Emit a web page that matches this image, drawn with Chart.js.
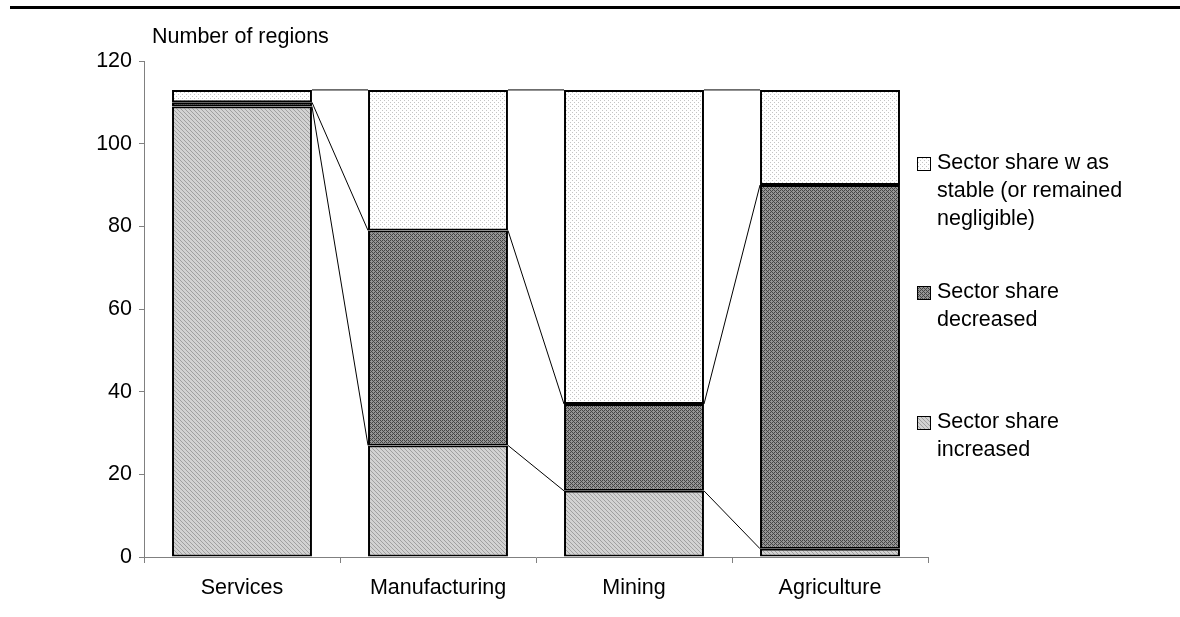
<!DOCTYPE html>
<html>
<head>
<meta charset="utf-8">
<script src="https://cdn.jsdelivr.net/npm/chart.js@4.4.1/dist/chart.umd.min.js"></script>
<style>
  html, body { margin: 0; padding: 0; background: #fff; }
  #wrap { width: 1180px; height: 617px; position: relative; }
</style>
</head>
<body>
<div id="wrap"><canvas id="myChart" width="1180" height="617"></canvas></div>
<script>
// -----------------------------------------------------------------
// data
const categories = ['Services', 'Manufacturing', 'Mining', 'Agriculture'];
const shareIncreased = [109, 27, 16, 2];
const shareDecreased = [1, 52, 21, 88];
const shareStable = [3, 34, 76, 23];
const yTicks = [0, 20, 40, 60, 80, 100, 120];

const legendLines = {
  stable: ['Sector share w as', 'stable (or remained', 'negligible)'],
  decreased: ['Sector share', 'decreased'],
  increased: ['Sector share', 'increased'],
};

const FONT = '"Liberation Sans", Arial, sans-serif';
const FSIZE = 21.5;

// -----------------------------------------------------------------
// fill patterns (excel-like)
function makePattern(bg, fg, dots) {
  const c = document.createElement('canvas');
  c.width = 4; c.height = 4;
  const g = c.getContext('2d');
  g.fillStyle = bg;
  g.fillRect(0, 0, 4, 4);
  g.fillStyle = fg;
  dots.forEach(([x, y]) => g.fillRect(x, y, 1, 1));
  return g.createPattern(c, 'repeat');
}

const patIncreased = makePattern('#d2d2d2', '#a0a0a0', [[0, 0], [1, 1], [2, 2], [3, 3]]);
const patDecreased = makePattern('#959595', '#454545', [[0, 0], [2, 0], [1, 1], [3, 3], [0, 2], [2, 2]]);
const patStable = makePattern('#ffffff', '#c4c4c4', [[0, 0], [2, 2]]);

// -----------------------------------------------------------------
// plugin: series lines, title, legend, top rule
const extras = {
  id: 'extras',
  afterDatasetsDraw(chart) {
    const ctx = chart.ctx;
    ctx.save();

    // series lines between bar tops
    ctx.strokeStyle = '#000';
    ctx.lineWidth = 1;
    chart.data.datasets.forEach((ds, di) => {
      const bars = chart.getDatasetMeta(di).data;
      for (let i = 0; i < bars.length - 1; i++) {
        const a = bars[i], b = bars[i + 1];
        ctx.beginPath();
        ctx.moveTo(a.x + a.width / 2, a.y);
        ctx.lineTo(b.x - b.width / 2, b.y);
        ctx.stroke();
      }
    });

    // top rule
    ctx.fillStyle = '#000';
    ctx.fillRect(10, 6, 1170, 3);

    // axis title
    ctx.font = FSIZE + 'px ' + FONT;
    ctx.textBaseline = 'alphabetic';
    ctx.textAlign = 'left';
    ctx.fillText('Number of regions', 152, 43);

    // legend
    const items = [
      { fill: patStable, lines: legendLines.stable, y: 169 },
      { fill: patDecreased, lines: legendLines.decreased, y: 298 },
      { fill: patIncreased, lines: legendLines.increased, y: 428 },
    ];
    items.forEach((it) => {
      ctx.fillStyle = it.fill;
      ctx.fillRect(917, it.y - 12, 14, 14);
      ctx.strokeStyle = '#000';
      ctx.lineWidth = 1;
      ctx.strokeRect(917.5, it.y - 11.5, 13, 13);
      ctx.fillStyle = '#000';
      it.lines.forEach((t, k) => ctx.fillText(t, 937, it.y + k * 28));
    });

    ctx.restore();
  },
};

// -----------------------------------------------------------------
// chart
const ctx = document.getElementById('myChart').getContext('2d');

new Chart(ctx, {
  type: 'bar',
  data: {
    labels: categories,
    datasets: [
      { label: 'Sector share increased', data: shareIncreased, backgroundColor: patIncreased },
      { label: 'Sector share decreased', data: shareDecreased, backgroundColor: patDecreased },
      { label: 'Sector share was stable (or remained negligible)', data: shareStable, backgroundColor: patStable },
    ].map((d) => Object.assign(d, {
      borderColor: '#000',
      borderWidth: 2,
      borderSkipped: false,
      barPercentage: 0.714,
      categoryPercentage: 1,
    })),
  },
  options: {
    responsive: false,
    animation: false,
    layout: { padding: { top: 61, right: 252, left: 0, bottom: 0 } },
    plugins: {
      legend: { display: false },
      tooltip: { enabled: false },
      title: { display: false },
    },
    scales: {
      x: {
        stacked: true,
        grid: { drawOnChartArea: false, drawTicks: true, tickLength: 6, color: '#808080', offset: true },
        border: { color: '#808080', width: 1 },
        ticks: { color: '#000', font: { family: FONT, size: FSIZE }, padding: 12 },
        afterFit: (s) => { s.height = 60; },
      },
      y: {
        stacked: true,
        min: 0,
        max: 120,
        afterBuildTicks: (s) => { s.ticks = yTicks.map((v) => ({ value: v })); },
        grid: { drawOnChartArea: false, drawTicks: true, tickLength: 5, color: '#808080' },
        border: { color: '#808080', width: 1 },
        ticks: { color: '#000', font: { family: FONT, size: FSIZE }, padding: 7 },
        afterFit: (s) => { s.width = 144; },
      },
    },
  },
  plugins: [extras],
});
</script>
</body>
</html>
